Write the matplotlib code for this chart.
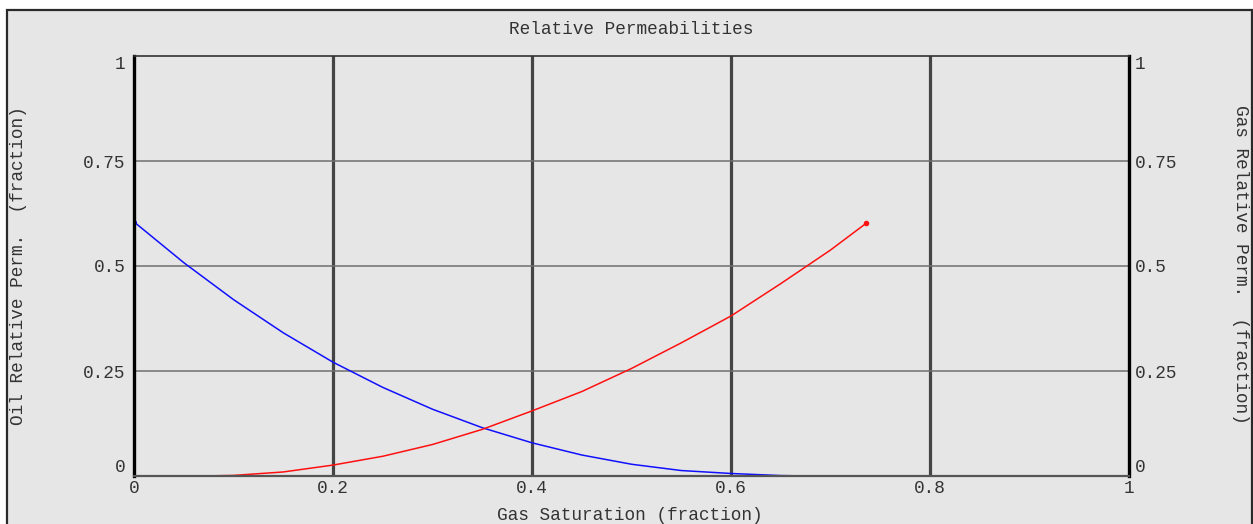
import matplotlib
matplotlib.use("Agg")
import matplotlib.pyplot as plt
from matplotlib.patches import Rectangle

# Gas saturation vs. oil relative permeability
sg_oil = [0.0, 0.05, 0.10, 0.15, 0.20, 0.25, 0.30, 0.35, 0.40, 0.45,
          0.50, 0.55, 0.60, 0.65, 0.68]
kro = [0.605, 0.508, 0.420, 0.341, 0.271, 0.211, 0.159, 0.115, 0.079,
       0.050, 0.028, 0.013, 0.006, 0.001, 0.0]

# Gas saturation vs. gas relative permeability
sg_gas = [0.07, 0.10, 0.15, 0.20, 0.25, 0.30, 0.35, 0.40, 0.45, 0.50,
          0.55, 0.60, 0.65, 0.70, 0.736]
krg = [0.0, 0.0014, 0.0096, 0.026, 0.047, 0.075, 0.111, 0.155, 0.201,
       0.256, 0.317, 0.381, 0.458, 0.538, 0.602]

x_ticks = [0, 0.2, 0.4, 0.6, 0.8, 1]
x_tick_labels = ["0", "0.2", "0.4", "0.6", "0.8", "1"]
y_ticks = [0, 0.25, 0.5, 0.75, 1]
y_tick_labels = ["0", "0.25", "0.5", "0.75", "1"]

title = "Relative Permeabilities"
x_label = "Gas Saturation (fraction)"
y_left_label = "Oil Relative Perm.  (fraction)"
y_right_label = "Gas Relative Perm.  (fraction)"

W, H = 1253, 524
BG = "#e6e6e6"
TXT = "#333333"
FONT = "Liberation Mono"
FS = 12.8

fig = plt.figure(figsize=(W / 100, H / 100), dpi=100)
fig.patch.set_facecolor("white")

# framed grey panel behind everything (runs off the bottom edge)
fig.patches.append(Rectangle((7 / W, -0.05), (W - 8) / W, (H - 10) / H + 0.05,
                             transform=fig.transFigure, facecolor=BG,
                             edgecolor="#2a2a2a", linewidth=1.6, zorder=-5))

ax = fig.add_axes([134 / W, 48 / H, 995 / W, 420 / H])
ax.set_zorder(2)
ax.set_facecolor("none")
ax.set_xlim(0, 1)
ax.set_ylim(0, 1)

# grid: heavy verticals, light horizontals
for xv in x_ticks[1:-1]:
    ax.axvline(xv, color="#444444", linewidth=2.3, zorder=1)
for yv in y_ticks[1:-1]:
    ax.axhline(yv, color="#6e6e6e", linewidth=1.1, zorder=1)

ax.plot(sg_oil, kro, color="#1010ff", linewidth=1.1, zorder=3)
ax.plot(sg_oil[:1], kro[:1], "o", color="#1010ff", markersize=2.5, zorder=4)
ax.plot(sg_gas, krg, color="#ff1010", linewidth=1.1, zorder=3)
ax.plot(sg_gas[-1:], krg[-1:], "o", color="#ff1010", markersize=3, zorder=4)

for side, lw, col in [("left", 2.4, "black"), ("right", 2.4, "black"),
                      ("top", 1.2, "#333333"), ("bottom", 1.6, "#555555")]:
    ax.spines[side].set_linewidth(lw)
    ax.spines[side].set_color(col)
    ax.spines[side].set_zorder(5)

ax.set_xticks(x_ticks)
ax.set_xticklabels(x_tick_labels, family=FONT, fontsize=FS, color=TXT)
ax.set_yticks(y_ticks)
ax.set_yticklabels(y_tick_labels, family=FONT, fontsize=FS, color=TXT)
ax.tick_params(axis="both", length=0)
ax.tick_params(axis="x", pad=3)
ax.tick_params(axis="y", pad=6)

ax2 = ax.twinx()
ax2.set_zorder(3)
ax2.set_ylim(0, 1)
ax2.set_yticks(y_ticks)
ax2.set_yticklabels(y_tick_labels, family=FONT, fontsize=FS, color=TXT)
ax2.tick_params(axis="y", length=0, pad=4)
for s in ax2.spines.values():
    s.set_visible(False)

# keep the end labels inside the plotting range
for a in (ax, ax2):
    ticks = a.yaxis.get_major_ticks()
    ticks[0].label1.set_va("bottom")
    ticks[0].label2.set_va("bottom")
    ticks[-1].label1.set_va("top")
    ticks[-1].label2.set_va("top")

fig.text(631 / W, 1 - 29 / H, title, ha="center", va="center",
         family=FONT, fontsize=FS, color=TXT)
fig.text(630 / W, 1 - 516 / H, x_label, ha="center", va="center",
         family=FONT, fontsize=FS, color=TXT)
fig.text(19 / W, 1 - 266 / H, y_left_label, ha="center", va="center",
         rotation=90, family=FONT, fontsize=FS, color=TXT)
fig.text(1241 / W, 1 - 264 / H, y_right_label, ha="center", va="center",
         rotation=-90, family=FONT, fontsize=FS, color=TXT)

fig.savefig("out.png", dpi=100, facecolor=fig.get_facecolor())
